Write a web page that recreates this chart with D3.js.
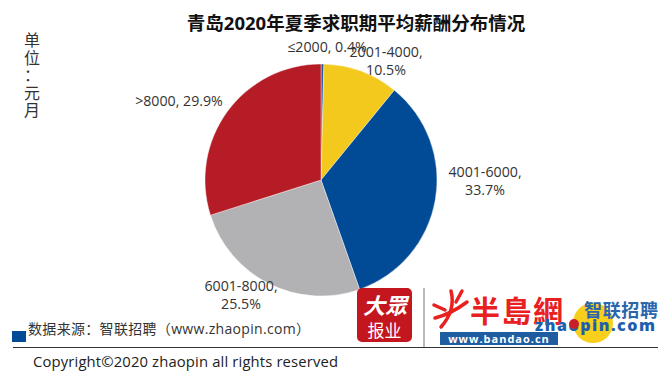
<!DOCTYPE html>
<html>
<head>
<meta charset="utf-8">
<script src="https://cdn.jsdelivr.net/npm/d3@7"></script>
<style>
html,body{margin:0;padding:0;background:#fff;overflow:hidden}
text{font-family:"Open Sans","Noto Sans CJK SC",sans-serif}
</style>
</head>
<body>
<script>
const categories = ["≤2000","2001-4000","4001-6000","6001-8000",">8000"];
const shares = [0.4,10.5,33.7,25.5,29.9];
const colors = ["#1f5fa8","#f4c91e","#004a96","#b2b2b4","#b51c25"];
// label text lines, one list per slice
const labelLines = [["≤2000, 0.4%"],["2001-4000,","10.5%"],["4001-6000,","33.7%"],["6001-8000,","25.5%"],[">8000, 29.9%"]];
const labelPos = [[327,52],[386,57],[485,177],[241,291],[179,106]];

const titleText = "青岛2020年夏季求职期平均薪酬分布情况";
const unitChars = ["单","位","：","元","月"];
const sourceText = "数据来源：智联招聘（www.zhaopin.com）";
const copyrightText = "Copyright©2020 zhaopin all rights reserved";

const xSize = 670; const ySize = 375;
const cx = 321; const cy = 180; const radius = 116;

const svg = d3.select("body").append("svg")
    .attr("width", xSize)
    .attr("height", ySize)
    .style("display","block");

svg.append("text")
    .attr("x", 356).attr("y", 30)
    .attr("text-anchor","middle")
    .attr("font-size", 18.5)
    .attr("font-weight", 700)
    .attr("fill","#111")
    .text(titleText);

// unit, written top to bottom
svg.selectAll(".unit").data(unitChars).enter().append("text")
    .attr("class","unit")
    .attr("x", 32)
    .attr("y", (d,i) => 46 + i*17.5)
    .attr("text-anchor","middle")
    .attr("font-size", 16)
    .attr("fill","#333")
    .text(d => d);

// pie
const pie = d3.pie().sort(null).value(d => d);
const arc = d3.arc().innerRadius(0).outerRadius(radius);

svg.append("g")
    .attr("transform","translate(" + cx + "," + cy + ")")
    .selectAll("path")
    .data(pie(shares))
    .enter()
    .append("path")
    .attr("d", arc)
    .attr("fill", (d,i) => colors[i])
    .attr("stroke","#fff")
    .attr("stroke-width",0.4);

// data labels
labelLines.forEach((lines,i) => {
    const t = svg.append("text")
        .attr("text-anchor","middle")
        .attr("font-size", 14.2)
        .attr("fill","#333");
    lines.forEach((l,j) => {
        t.append("tspan")
            .attr("x", labelPos[i][0])
            .attr("y", labelPos[i][1] + j*18)
            .text(l);
    });
});

// footer
svg.append("rect").attr("x",12).attr("y",331).attr("width",14).attr("height",11).attr("fill","#004a96");
svg.append("text")
    .attr("x",28).attr("y",334)
    .attr("font-size",14)
    .attr("fill","#333")
    .attr("textLength",282)
    .text(sourceText);

svg.append("line").attr("x1",13).attr("x2",658).attr("y1",347.5).attr("y2",347.5)
    .attr("stroke","#333").attr("stroke-width",1.2);

svg.append("text")
    .attr("x",33).attr("y",367)
    .attr("font-size",14.8)
    .attr("fill","#222")
    .attr("textLength",305)
    .text(copyrightText);

// logos
const logos = svg.append("g");
logos.append("rect").attr("x",357).attr("y",288).attr("width",55).attr("height",54).attr("rx",5).attr("fill","#c4161f");
logos.append("text").attr("x",385).attr("y",314).attr("text-anchor","middle")
    .attr("font-size",22).attr("font-weight",700).attr("font-style","italic").attr("fill","#fff").text("大眾");
logos.append("text").attr("x",384.5).attr("y",337).attr("text-anchor","middle")
    .attr("font-size",17).attr("fill","#fff").text("报业");
logos.append("line").attr("x1",424).attr("x2",424).attr("y1",288).attr("y2",347)
    .attr("stroke","#bbb").attr("stroke-width",2);

// brush mark in front of the site name
logos.append("path")
    .attr("d","M451 291 Q456 310 441 327 M434 305 L445 310 M435 318 Q451 314 467 302 M462 291 L456 302")
    .attr("fill","none").attr("stroke","#e8201f").attr("stroke-width",3.5).attr("stroke-linecap","round");
logos.append("text").attr("x",470).attr("y",322)
    .attr("font-size",30).attr("font-weight",700).attr("fill","#e8201f")
    .attr("textLength",93).text("半島網");
logos.append("rect").attr("x",440).attr("y",332).attr("width",118).attr("height",13).attr("fill","#1f5da0");
logos.append("text").attr("x",499).attr("y",343).attr("text-anchor","middle")
    .attr("font-size",11).attr("font-weight",700).attr("letter-spacing",1).attr("fill","#fff").text("www.bandao.cn");

logos.append("circle").attr("cx",593).attr("cy",323).attr("r",20).attr("fill","#f7cf1c");
logos.append("text").attr("x",584).attr("y",317)
    .attr("font-size",18).attr("font-weight",700).attr("fill","#2a66ad").attr("textLength",74).text("智联招聘");
logos.append("text").attr("x",535).attr("y",331)
    .attr("font-size",16).attr("font-weight",800).attr("fill","#1d5fae").attr("textLength",120).text("zhaopin.com");
logos.append("circle").attr("cx",574).attr("cy",324).attr("r",5).attr("fill","#c8202a");
</script>
</body>
</html>
